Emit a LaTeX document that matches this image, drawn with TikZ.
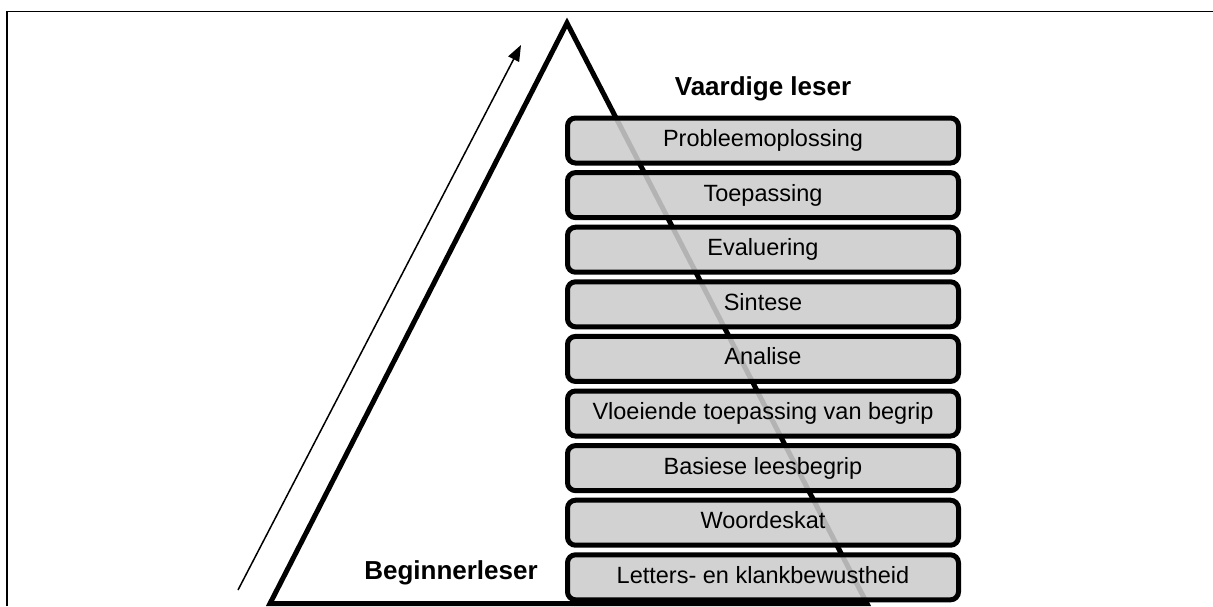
\documentclass[tikz,border=0pt]{standalone}
\usepackage{fontspec}
\setmainfont{Liberation Sans}
\usetikzlibrary{arrows.meta}
\begin{document}
\begin{tikzpicture}[x=1pt,y=-1pt,
  level/.style={draw=black, line width=5pt, rounded corners=8pt,
    fill={rgb,255:red,204;green,204;blue,204}, fill opacity=0.88, text opacity=1,
    minimum width=391pt, minimum height=45pt, inner sep=0pt,
    font=\fontsize{23.5}{28}\selectfont, text height=17pt, text depth=5pt},
  heading/.style={font=\fontsize{26}{30}\selectfont\bfseries, inner sep=0pt, anchor=base},
  frameline/.style={line width=1.8pt},
  pyramid/.style={line width=5pt, line join=miter},
  rise/.style={line width=1.5pt, -{Triangle[length=16pt,width=12pt]}}
]
\useasboundingbox (0,0) rectangle (1213,606);

% frame along the top and left edges
\coordinate (fl) at (7,606);
\coordinate (fc) at (7,11.5);
\coordinate (fr) at (1213,11.5);
\draw[frameline] (fl) -- (fc) -- (fr);

% upward arrow beside the pyramid
\coordinate (a0) at (238,590);
\coordinate (a1) at (521,45);
\draw[rise] (a0) -- (a1);

% pyramid outline
\coordinate (apex) at (567,23);
\coordinate (bl) at (270,603.5);
\coordinate (br) at (867,603.5);
\draw[pyramid] (apex) -- (bl) -- (br) -- cycle;

% stacked levels
\foreach \name/\txt [count=\k from 0] in {
  b1/Probleemoplossing,
  b2/Toepassing,
  b3/Evaluering,
  b4/Sintese,
  b5/Analise,
  b6/Vloeiende toepassing van begrip,
  b7/Basiese leesbegrip,
  b8/Woordeskat,
  b9/Letters- en klankbewustheid}
  \node[level] (\name) at (763,{140.5+54.6*\k}) {\txt};

% labels
\node[heading] (top) at (763,95) {Vaardige leser};
\node[heading] (bottom) at (451,579) {Beginnerleser};
\end{tikzpicture}
\end{document}
